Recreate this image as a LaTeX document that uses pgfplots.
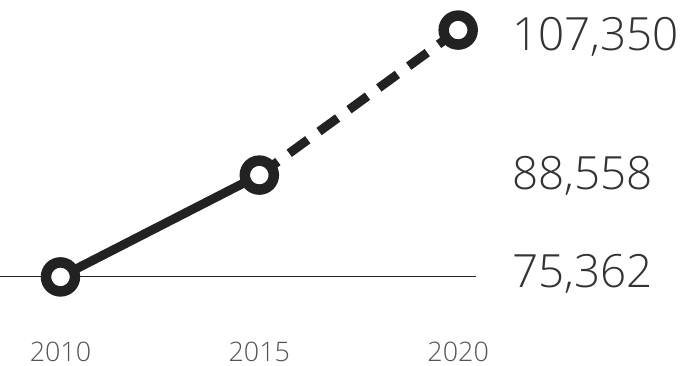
\documentclass[border=0pt]{standalone}
\usepackage{pgfplots}
\pgfplotsset{compat=1.18}
\usepackage{fontspec}
\setmainfont{Open Sans}[UprightFont=* Light]
\definecolor{ink}{HTML}{222222}
\definecolor{lab}{HTML}{333333}
\definecolor{tick}{HTML}{555555}
\begin{document}
\begin{tikzpicture}
\begin{axis}[
  scale only axis,
  width=694bp, height=366bp,
  xmin=2008.492, xmax=2025.93,
  ymin=63838, ymax=111235,
  clip=false,
  axis line style={draw=none},
  xtick={2010,2015,2020},
  xticklabels={2010,2015,2020},
  ytick=\empty,
  major tick length=0pt,
  xticklabel style={anchor=center, yshift=14bp, font=\fontsize{27}{30}\selectfont, text=tick},
]
\path (rel axis cs:0,0) rectangle (rel axis cs:1,1);
\addplot[draw=ink, line width=1bp, no marks] coordinates {(2008.492,75362) (2020.45,75362)};
\addplot[draw=ink, line width=9bp, no marks] coordinates {(2010,75362) (2015,88558)};
\addplot[draw=ink, line width=9bp, no marks, dash pattern=on 23bp off 14bp] coordinates {(2015,88558) (2020,107350)};
\addplot[only marks, mark=*, mark size=14.5bp, mark options={solid, fill=white, draw=ink, line width=10.5bp}] coordinates {(2010,75362) (2015,88558) (2020,107350)};
\node[anchor=base west, inner sep=0pt, text=lab, font=\fontsize{46}{50}\selectfont] at (axis cs:2021.35,104760) {107,350};
\node[anchor=base west, inner sep=0pt, text=lab, font=\fontsize{46}{50}\selectfont] at (axis cs:2021.35,86630) {88,558};
\node[anchor=base west, inner sep=0pt, text=lab, font=\fontsize{46}{50}\selectfont] at (axis cs:2021.35,73939) {75,362};
\end{axis}
\end{tikzpicture}
\end{document}
